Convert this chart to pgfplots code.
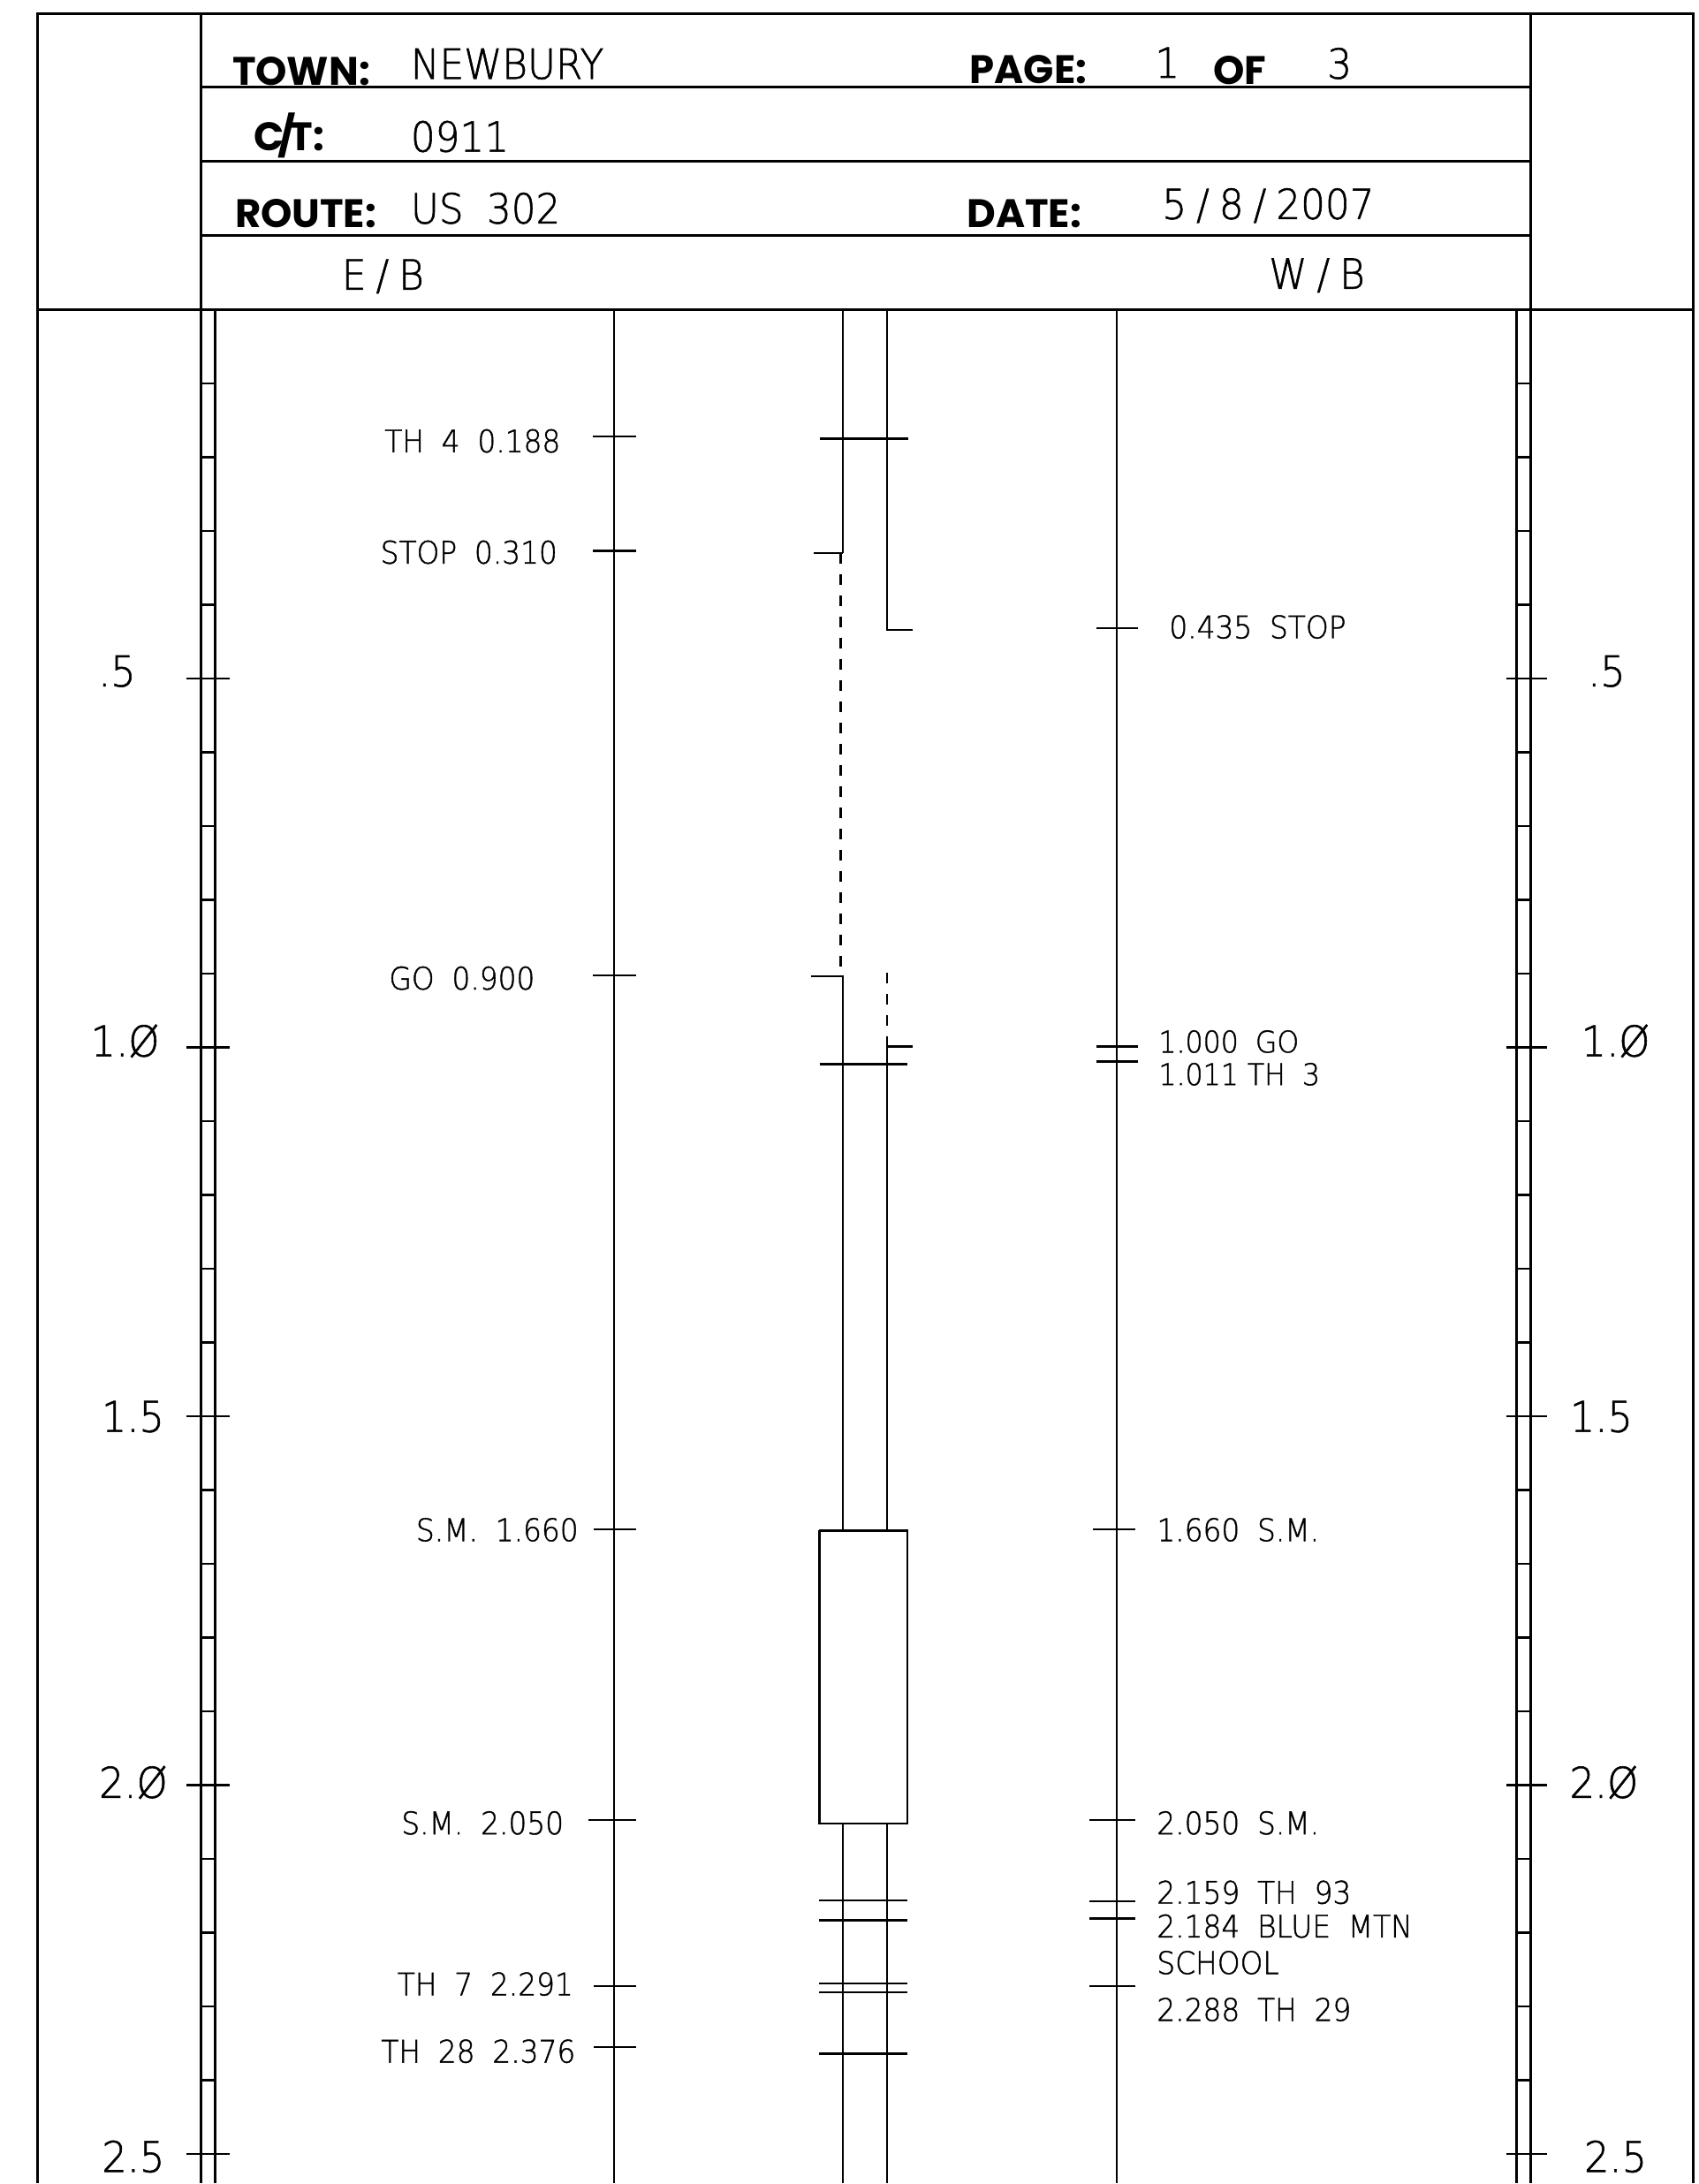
\documentclass[border=0pt]{standalone}
\usepackage{pgfplots}
\pgfplotsset{compat=1.18}
\usepackage{fontspec}
\setmainfont{DejaVu Sans}
\IfFontExistsTF{DejaVu Sans ExtraLight}
  {\newfontfamily\cad{DejaVu Sans ExtraLight}[FakeStretch=0.93, WordSpace=1.9, FakeBold=1.2]}
  {\newfontfamily\cad{DejaVu Sans}[FakeStretch=0.93, WordSpace=1.9]}
\newfontfamily\hdr{Poppins}

% text sizes in bp, 1 bp = 1 pixel of the reference
\newcommand\keyfont{\hdr\bfseries\fontsize{45bp}{50bp}\selectfont}
\newcommand\headfont{\cad\fontsize{47bp}{52bp}\selectfont}
\newcommand\milefont{\cad\fontsize{48bp}{52bp}\selectfont}
\newcommand\lblfont{\cad\fontsize{35.3bp}{40bp}\selectfont}
\newcommand\tinyfont{\cad\fontsize{34bp}{38bp}\selectfont}
% the drafting font sets its slashes wide
\newcommand\sep{\kern11bp/\kern11bp}

\tikzset{
  boxline/.style={black, line width=3bp},
  road/.style={black, line width=2.3bp},
  refline/.style={black, line width=1.8bp},
  tk/.style={black, line width=2.3bp},
  gapline/.style={black, line width=2.3bp, dash pattern=on 12bp off 12bp},
  lbl/.style={inner sep=0pt, font=\lblfont},
}

\begin{document}
\begin{tikzpicture}
\begin{axis}[
  scale only axis,
  width=1924bp, height=2472bp,
  xmin=0, xmax=1924,
  ymin=-0.41975, ymax=2.539,
  y dir=reverse,
  hide axis,
  clip=false,
  unbounded coords=jump,
]
\path (rel axis cs:0,0) rectangle (rel axis cs:1,1);

% ---- frame and header box
\addplot[boxline] coordinates {(43,2.539) (43,-0.401) (1917.5,-0.401) (1917.5,2.539)};
\addplot[boxline] coordinates {(227.7,2.539) (227.7,-0.401)};
\addplot[boxline] coordinates {(1733.3,2.539) (1733.3,-0.401)};
\addplot[boxline, line width=3.6bp] coordinates {(43,0) (1917.5,0)};
\addplot[boxline] coordinates {(227.7,-0.3012) (1733.3,-0.3012) (nan,nan)
  (227.7,-0.2007) (1733.3,-0.2007) (nan,nan)
  (227.7,-0.1005) (1733.3,-0.1005)};

% ---- mile scales, left and right
\addplot[boxline] coordinates {(244,0) (244,2.539)};
\addplot[boxline] coordinates {(1717.3,0) (1717.3,2.539)};
\pgfplotsinvokeforeach{0.1,0.2,0.3,0.4,0.6,0.7,0.8,0.9,1.1,1.2,1.3,1.4,1.6,1.7,1.8,1.9,2.1,2.2,2.3,2.4}{
  \addplot[tk] coordinates {(227.7,#1) (244,#1)};
  \addplot[tk] coordinates {(1717.3,#1) (1733.3,#1)};
}
\pgfplotsinvokeforeach{0.5,1.0,1.5,2.0,2.5}{
  \addplot[tk] coordinates {(211.5,#1) (260.6,#1)};
  \addplot[tk] coordinates {(1706,#1) (1752,#1)};
}

% ---- E/B and W/B reference lines
\addplot[refline] coordinates {(695.5,0) (695.5,2.539)};
\addplot[refline] coordinates {(1265,0) (1265,2.539)};

% ---- centre road lines
\addplot[road] coordinates {(954.6,0) (954.6,0.330)};
\addplot[gapline] coordinates {(952,0.330) (952,0.902)};
\addplot[road] coordinates {(954.6,0.902) (954.6,1.655)};
\addplot[road] coordinates {(954.6,2.052) (954.6,2.539)};
\addplot[road] coordinates {(1004.3,0) (1004.3,0.434) (1033.5,0.434)};
\addplot[gapline] coordinates {(1004.3,0.899) (1004.3,0.985)};
\addplot[road] coordinates {(1004.3,0.985) (1004.3,1.655)};
\addplot[road] coordinates {(1004.3,2.052) (1004.3,2.539)};
\addplot[road] coordinates {(928,1.655) (1027.6,1.655) (1027.6,2.052) (928,2.052) (928,1.655)};

% centre crossings
\addplot[tk] coordinates {(928.6,0.1749) (1028.3,0.1749)};
\addplot[tk] coordinates {(922,0.330) (954.6,0.330)};
\addplot[tk] coordinates {(919,0.904) (954.6,0.904)};
\addplot[tk] coordinates {(1004.3,0.999) (1033.3,0.999)};
\addplot[tk] coordinates {(928.3,1.0229) (1027.7,1.0229)};
\addplot[tk] coordinates {(928,2.1563) (1027.6,2.1563)};
\addplot[tk] coordinates {(928,2.1832) (1027.6,2.1832)};
\addplot[tk] coordinates {(928,2.2686) (1027.6,2.2686)};
\addplot[tk] coordinates {(928,2.2811) (1027.6,2.2811)};
\addplot[tk] coordinates {(928,2.3642) (1027.6,2.3642)};

% E/B events
\addplot[tk] coordinates {(671.4,0.1720) (720.4,0.1720)};
\addplot[tk] coordinates {(671.4,0.3270) (720.4,0.3270)};
\addplot[tk] coordinates {(671.4,0.9020) (720.4,0.9020)};
\addplot[tk] coordinates {(672,1.6532) (720,1.6532)};
\addplot[tk] coordinates {(666,2.0470) (720,2.0470)};
\addplot[tk] coordinates {(672,2.2725) (720,2.2725)};
\addplot[tk] coordinates {(672,2.3554) (720,2.3554)};

% W/B events
\addplot[tk] coordinates {(1241.7,0.4320) (1288.4,0.4320)};
\addplot[tk] coordinates {(1241.7,0.9990) (1288.4,0.9990)};
\addplot[tk] coordinates {(1241.7,1.0192) (1288.4,1.0192)};
\addplot[tk] coordinates {(1238,1.6532) (1286,1.6532)};
\addplot[tk] coordinates {(1234,2.0470) (1286,2.0470)};
\addplot[tk] coordinates {(1234,2.1576) (1285.5,2.1576)};
\addplot[tk] coordinates {(1234,2.1809) (1285.5,2.1809)};
\addplot[tk] coordinates {(1234,2.2725) (1286,2.2725)};

% ---- header text
\node[inner sep=0pt, anchor=base west, font=\keyfont] at (axis cs:263,-0.3040) {TOWN:};
\node[inner sep=0pt, anchor=base west, font=\headfont] at (axis cs:465,-0.3129) {NEWBURY};
\node[inner sep=0pt, anchor=base west, font=\keyfont] at (axis cs:1098,-0.3060) {PAGE:};
\node[inner sep=0pt, anchor=base west, font=\headfont] at (axis cs:1308,-0.3144) {1};
\node[inner sep=0pt, anchor=base west, font=\keyfont] at (axis cs:1374,-0.3048) {OF};
\node[inner sep=0pt, anchor=base west, font=\headfont] at (axis cs:1503,-0.3132) {3};
\node[inner sep=0pt, anchor=base west, font=\keyfont] at (axis cs:287,-0.2151) {C\kern-7bp/\kern-7bp T:};
\node[inner sep=0pt, anchor=base west, font=\headfont] at (axis cs:465,-0.2142) {0911};
\node[inner sep=0pt, anchor=base west, font=\keyfont] at (axis cs:266,-0.1110) {ROUTE:};
\node[inner sep=0pt, anchor=base west, font=\headfont] at (axis cs:465,-0.1169) {US 302};
\node[inner sep=0pt, anchor=base west, font=\keyfont] at (axis cs:1095,-0.1110) {DATE:};
\node[inner sep=0pt, anchor=base west, font=\headfont] at (axis cs:1316,-0.1229) {5\sep 8\sep 2007};
\node[inner sep=0pt, anchor=base west, font=\headfont] at (axis cs:387,-0.0272) {E\sep B};
\node[inner sep=0pt, anchor=base west, font=\headfont] at (axis cs:1437,-0.0284) {W\sep B};

% ---- mile numbers
\node[inner sep=0pt, anchor=base, font=\milefont] at (axis cs:132.5,0.5107) {.5};
\node[inner sep=0pt, anchor=base, font=\milefont] at (axis cs:141.7,1.0122) {1.Ø};
\node[inner sep=0pt, anchor=base, font=\milefont] at (axis cs:150.5,1.5212) {1.5};
\node[inner sep=0pt, anchor=base, font=\milefont] at (axis cs:151,2.0172) {2.Ø};
\node[inner sep=0pt, anchor=base, font=\milefont] at (axis cs:151,2.5245) {2.5};
\node[inner sep=0pt, anchor=base, font=\milefont] at (axis cs:1819.5,0.5107) {.5};
\node[inner sep=0pt, anchor=base, font=\milefont] at (axis cs:1829.7,1.0122) {1.Ø};
\node[inner sep=0pt, anchor=base, font=\milefont] at (axis cs:1813.5,1.5212) {1.5};
\node[inner sep=0pt, anchor=base, font=\milefont] at (axis cs:1816.5,2.0172) {2.Ø};
\node[inner sep=0pt, anchor=base, font=\milefont] at (axis cs:1829.7,2.5245) {2.5};

% ---- E/B labels
\node[lbl, anchor=base east] at (axis cs:635,0.1934) {TH 4 0.188};
\node[lbl, anchor=base east] at (axis cs:631.5,0.3442) {STOP 0.310};
\node[lbl, anchor=base east] at (axis cs:606,0.9216) {GO 0.900};
\node[lbl, anchor=base east] at (axis cs:655.3,1.6693) {S.M. 1.660};
\node[lbl, anchor=base east] at (axis cs:638.7,2.0667) {S.M. 2.050};
\node[lbl, anchor=base east] at (axis cs:649.5,2.2851) {TH 7 2.291};
\node[lbl, anchor=base east] at (axis cs:652,2.3762) {TH 28 2.376};

% ---- W/B labels
\node[lbl, anchor=base west] at (axis cs:1324,0.4455) {0.435 STOP};
\node[lbl, anchor=base west, font=\tinyfont] at (axis cs:1312,1.0070) {1.000 GO};
\node[lbl, anchor=base west, font=\tinyfont] at (axis cs:1312,1.0512) {1.011\kern10bp TH 3};
\node[lbl, anchor=base west] at (axis cs:1310,1.6693) {1.660 S.M.};
\node[lbl, anchor=base west] at (axis cs:1310,2.0667) {2.050 S.M.};
\node[lbl, anchor=base west] at (axis cs:1310,2.1608) {2.159 TH 93};
\node[lbl, anchor=base west] at (axis cs:1310,2.2066) {2.184 BLUE MTN};
\node[lbl, anchor=base west] at (axis cs:1310,2.2561) {SCHOOL};
\node[lbl, anchor=base west] at (axis cs:1310,2.3196) {2.288 TH 29};
\end{axis}
\end{tikzpicture}
\end{document}
